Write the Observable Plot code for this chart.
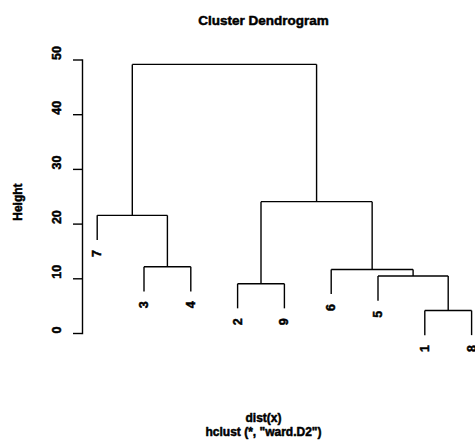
<!DOCTYPE html>
<html><head><meta charset="utf-8">
<script src="https://cdn.jsdelivr.net/npm/d3@7"></script>
<script src="https://cdn.jsdelivr.net/npm/@observablehq/plot@0.6"></script>
<style>body{margin:0;background:#fff} svg{display:block}</style>
</head><body><div id="chart"></div>
<script>
// leaf order as drawn, left to right
const leafOrder = [7, 3, 4, 2, 9, 6, 5, 1, 8];
// merge steps (R hclust convention: negative = observation, positive = earlier merge)
const mergeA = [-1, -2, -5, -6, -3, -7, 2, 6];
const mergeB = [-8, -9, 1, 3, -4, 5, 4, 7];
const mergeHeight = [4.2, 9.1, 10.5, 11.7, 12.2, 21.6, 24.1, 49.2];
const yTicks = [0, 10, 20, 30, 40, 50];
const title = "Cluster Dendrogram";
const xLabel = "dist(x)";
const subLabel = 'hclust (*, "ward.D2")';
const yLabel = "Height";

const hang = 0.1 * (d3.max(mergeHeight) - d3.min(mergeHeight));
const leafPos = new Map(leafOrder.map((o, i) => [o, i + 1]));
const nodeX = [], nodeY = [];
const segs = [];
const leaves = [];
function child(c, h) {
  if (c < 0) {
    const x = leafPos.get(-c), y = h - hang;
    leaves.push({x, y, label: String(-c)});
    return {x, y};
  }
  return {x: nodeX[c - 1], y: nodeY[c - 1]};
}
mergeA.forEach((a, i) => {
  const h = mergeHeight[i];
  const A = child(a, h), B = child(mergeB[i], h);
  segs.push({x1: A.x, y1: A.y, x2: A.x, y2: h});
  segs.push({x1: B.x, y1: B.y, x2: B.x, y2: h});
  segs.push({x1: A.x, y1: h, x2: B.x, y2: h});
  nodeX[i] = (A.x + B.x) / 2; nodeY[i] = h;
});
const font = "'Liberation Sans', Arial, Helvetica, sans-serif";
const lw = 1.4;
const heavy = {fontWeight: "bold", fill: "#000", stroke: "#000", strokeWidth: 0.5};

const chart = Plot.plot({
  width: 475, height: 444,
  marginLeft: 82, marginRight: 31, marginTop: 59.5, marginBottom: 111,
  style: {fontFamily: font, background: "#fff", color: "#000", overflow: "visible"},
  x: {domain: [1, leafOrder.length], range: [96.7, 471.1], axis: null},
  y: {domain: [0, 50], axis: null},
  marks: [
    Plot.frame({anchor: "left", stroke: "#000", strokeWidth: lw}),
    Plot.axisY({ticks: yTicks, tickSize: 9, tickFormat: () => "", strokeWidth: lw, label: null}),
    Plot.text(yTicks, {y: d => d, text: d => String(d), frameAnchor: "left", dx: -26, rotate: -90, fontSize: 12.5, ...heavy}),
    Plot.text([yLabel], {frameAnchor: "left", dx: -64, dy: 24, rotate: -90, fontSize: 12, ...heavy}),
    Plot.link(segs, {x1: "x1", y1: "y1", x2: "x2", y2: "y2", stroke: "#000", strokeWidth: lw}),
    Plot.text(leaves, {x: "x", y: "y", text: "label", rotate: -90, textAnchor: "end", dy: 10, fontSize: 12.5, ...heavy}),
    Plot.text([title], {frameAnchor: "top", dy: -44.5, fontSize: 13.5, ...heavy}),
    Plot.text([xLabel], {frameAnchor: "bottom", dy: 88, fontSize: 12, ...heavy}),
    Plot.text([subLabel], {frameAnchor: "bottom", dy: 102, fontSize: 12, ...heavy})
  ]
});
document.getElementById("chart").append(chart);
</script>
</body></html>
